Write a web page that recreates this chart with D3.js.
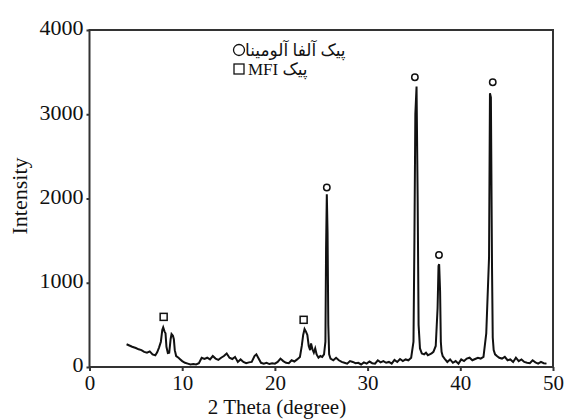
<!DOCTYPE html>
<html><head><meta charset="utf-8">
<script src="https://cdn.jsdelivr.net/npm/d3@7"></script>
<style>html,body{margin:0;padding:0;background:#fff;}svg{display:block;}</style>
</head><body>
<script>
// ---- data ----
const twoTheta = [4.0,4.3,4.6,5.0,5.3,5.6,5.9,6.2,6.5,6.8,7.1,7.3,7.5,7.7,7.85,7.95,8.1,8.2,8.3,8.45,8.6,8.75,8.85,9.0,9.1,9.2,9.35,9.6,9.8,10.0,10.3,10.6,10.9,11.2,11.5,11.8,12.1,12.4,12.7,13.0,13.3,13.6,13.9,14.2,14.5,14.8,15.1,15.4,15.7,16.0,16.3,16.6,16.9,17.2,17.5,17.8,18.0,18.2,18.5,18.8,19.1,19.4,19.7,20.0,20.3,20.6,20.9,21.2,21.5,21.8,22.1,22.4,22.7,22.9,23.05,23.2,23.35,23.5,23.65,23.8,23.9,24.05,24.2,24.35,24.5,24.7,24.9,25.1,25.3,25.45,25.52,25.6,25.68,25.76,25.85,26.0,26.3,26.6,26.9,27.2,27.5,27.8,28.1,28.4,28.7,29.0,29.3,29.6,29.9,30.2,30.5,30.8,31.1,31.4,31.7,32.0,32.3,32.6,32.9,33.2,33.5,33.8,34.1,34.4,34.7,34.95,35.05,35.15,35.28,35.4,35.5,35.65,35.85,36.1,36.3,36.5,36.7,36.9,37.1,37.35,37.55,37.65,37.72,37.82,37.9,37.98,38.1,38.3,38.6,38.9,39.2,39.5,39.8,40.1,40.4,40.7,41.0,41.3,41.6,41.9,42.2,42.5,42.8,43.1,43.2,43.3,43.42,43.5,43.6,43.75,43.95,44.2,44.5,44.8,45.1,45.4,45.7,46.0,46.3,46.6,46.9,47.2,47.5,47.8,48.1,48.4,48.7,49.0,49.3,49.6,50.0];
const intensity = [270,255,240,225,210,200,180,170,185,150,140,175,230,300,440,470,420,400,240,165,170,330,390,370,330,200,130,110,90,70,50,40,30,35,30,45,110,95,110,90,130,100,85,110,130,160,110,95,120,60,90,60,45,55,60,130,150,110,50,40,50,35,45,40,60,100,70,50,45,80,65,90,120,250,380,450,420,380,250,200,280,210,170,220,150,110,130,120,150,300,1400,2050,1600,500,150,100,80,110,80,60,50,40,70,60,45,50,30,55,40,65,45,40,80,55,70,50,60,40,85,60,95,70,90,80,110,300,1500,3000,3330,2000,500,220,160,150,170,140,150,160,180,250,700,1200,1220,900,300,180,130,100,60,90,50,70,40,90,70,100,110,80,95,110,100,120,400,1300,3250,3200,1200,350,200,150,130,110,100,120,80,90,60,110,70,90,60,50,45,80,55,40,60,45,40];
const circleTheta = [25.6, 35.1, 37.7, 43.5];
const circleIntensity = [2130, 3440, 1330, 3380];
const squareTheta = [8.0, 23.1];
const squareIntensity = [595, 560];
const xTicks = [0,10,20,30,40,50];
const yTicks = [0,1000,2000,3000,4000];
const xTitle = "2 Theta (degree)";
const yTitle = "Intensity";
const legendAlumina = "پیک آلفا آلومینا";
const legendMFI = "MFI پیک";

// ---- chart ----
const W = 564, H = 419;
const mLeft = 89.5, mRight = 553, mTop = 30, mBottom = 367;
const svg = d3.select("body").append("svg").attr("width", W).attr("height", H);
const x = d3.scaleLinear().domain([0,50]).range([mLeft,mRight]);
const y = d3.scaleLinear().domain([0,4000]).range([mBottom,mTop]);
const serif = "'Liberation Serif','Times New Roman',serif";

// frame
svg.append("rect").attr("x",mLeft).attr("y",mTop).attr("width",mRight-mLeft).attr("height",mBottom-mTop)
  .attr("fill","none").attr("stroke","#333").attr("stroke-width",2);

// axes
const xAxis = svg.append("g").attr("transform",`translate(0,${mBottom})`)
  .call(d3.axisBottom(x).tickValues(xTicks).tickSize(4).tickPadding(4).tickFormat(d3.format("d")));
const yAxis = svg.append("g").attr("transform",`translate(${mLeft},0)`)
  .call(d3.axisLeft(y).tickValues(yTicks).tickSize(3).tickPadding(3).tickFormat(d3.format("d")));
[xAxis,yAxis].forEach(g=>{
  g.select(".domain").remove();
  g.selectAll(".tick line").attr("stroke","#333").attr("stroke-width",2);
  g.selectAll(".tick text").attr("font-family",serif).attr("fill","#111");
});
xAxis.selectAll(".tick text").attr("font-size",21);
yAxis.selectAll(".tick text").attr("font-size",22).attr("dy","0.22em");

// data line
const n = Math.min(twoTheta.length, intensity.length);
const pts = twoTheta.slice(0,n).map((t,i)=>[t,intensity[i]]);
svg.append("path").datum(pts)
  .attr("d", d3.line().x(d=>x(d[0])).y(d=>y(d[1])))
  .attr("fill","none").attr("stroke","#111").attr("stroke-width",2).attr("stroke-linejoin","miter");

// markers
svg.selectAll("circle.mk").data(circleTheta).enter().append("circle").attr("class","mk")
  .attr("cx",(d)=>x(d)).attr("cy",(d,i)=>y(circleIntensity[i])).attr("r",3.2)
  .attr("fill","none").attr("stroke","#111").attr("stroke-width",1.5);
svg.selectAll("rect.mk").data(squareTheta).enter().append("rect").attr("class","mk")
  .attr("x",(d)=>x(d)-3.5).attr("y",(d,i)=>y(squareIntensity[i])-3.5).attr("width",7).attr("height",7)
  .attr("fill","none").attr("stroke","#111").attr("stroke-width",1.5);

// legend
svg.append("circle").attr("cx",239).attr("cy",50).attr("r",5.5).attr("fill","none").attr("stroke","#111").attr("stroke-width",1.3);
svg.append("text").attr("x",245).attr("y",56).attr("font-family",serif+",'DejaVu Sans'").attr("font-size",17).attr("fill","#111").text(legendAlumina);
svg.append("rect").attr("x",234).attr("y",64).attr("width",10).attr("height",10).attr("fill","none").attr("stroke","#111").attr("stroke-width",1.3);
svg.append("text").attr("x",248).attr("y",75).attr("font-family",serif+",'DejaVu Sans'").attr("font-size",17).attr("fill","#111").text(legendMFI);

// titles
svg.append("text").attr("x",277).attr("y",414).attr("text-anchor","middle")
  .attr("font-family",serif).attr("font-size",21).attr("fill","#111").text(xTitle);
svg.append("text").attr("transform","translate(27,196) rotate(-90)").attr("text-anchor","middle")
  .attr("font-family",serif).attr("font-size",22).attr("fill","#111").text(yTitle);
</script>
</body></html>
